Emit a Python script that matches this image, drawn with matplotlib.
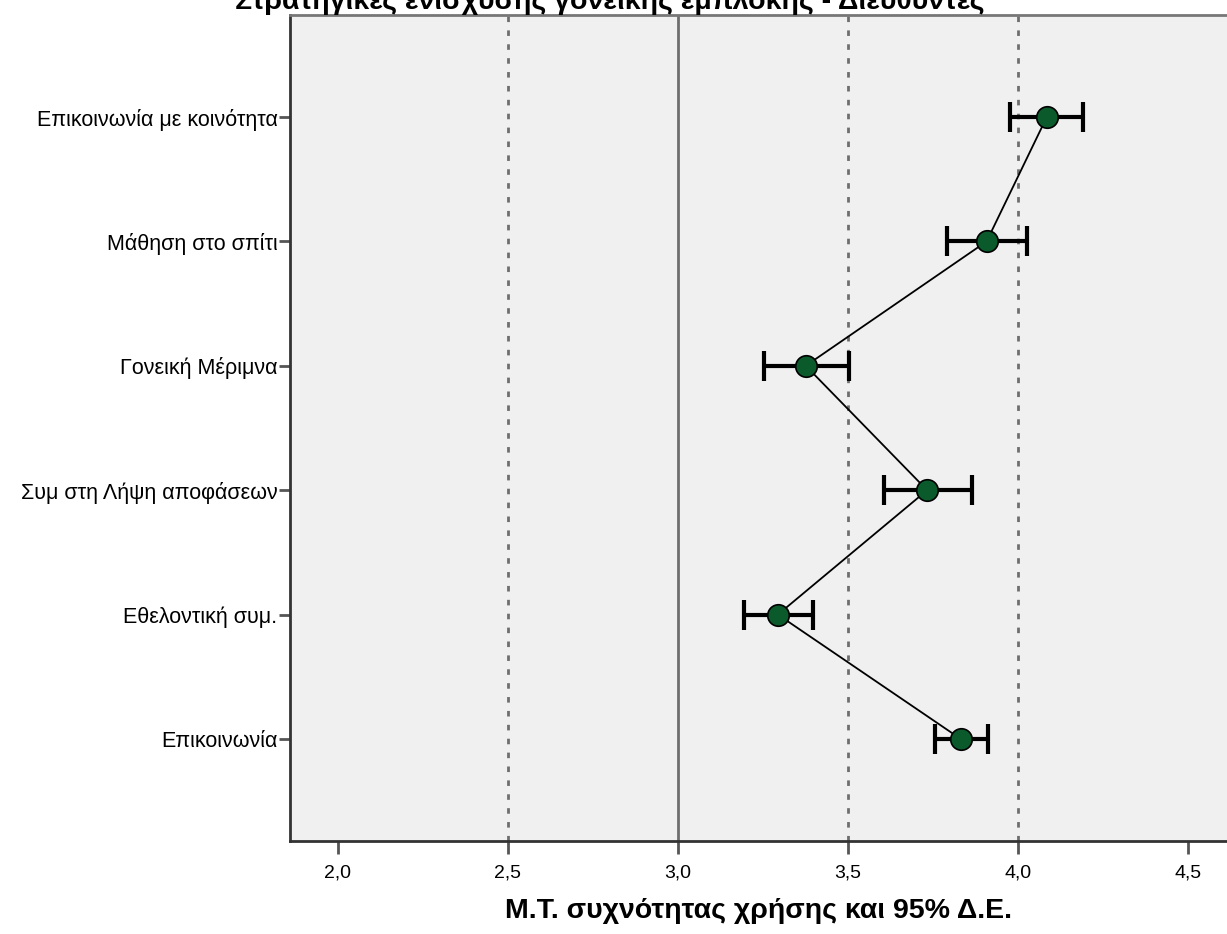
import matplotlib.pyplot as plt
from matplotlib.ticker import FuncFormatter

plt.rcParams["font.family"] = ["Liberation Sans", "DejaVu Sans"]

# categories listed top to bottom
categories = [
    "Επικοινωνία με κοινότητα",
    "Μάθηση στο σπίτι",
    "Γονεική Μέριμνα",
    "Συμ στη Λήψη αποφάσεων",
    "Εθελοντική συμ.",
    "Επικοινωνία",
]
means = [4.085, 3.908, 3.376, 3.733, 3.294, 3.832]
ci_low = [3.976, 3.790, 3.253, 3.606, 3.194, 3.757]
ci_high = [4.191, 4.028, 3.502, 3.866, 3.397, 3.912]
ref_lines = [2.5, 3.5, 4.0]
x_ticks = [2.0, 2.5, 3.0, 3.5, 4.0, 4.5]

fig = plt.figure(figsize=(12.27, 9.34), dpi=100)
ax = fig.add_axes([290 / 1227, 93 / 934, 937 / 1227, 826 / 934])
ax.set_facecolor("#f0f0f0")

y = list(range(len(categories)))
err_lo = [m - lo for m, lo in zip(means, ci_low)]
err_hi = [hi - m for m, hi in zip(means, ci_high)]

for xv in ref_lines:
    ax.axvline(xv, color="#6e6e6e", lw=2, ls=(0, (2, 3)), zorder=1)
ax.axvline(3.0, color="#6e6e6e", lw=2, zorder=1)

ax.plot(means, y, color="black", lw=1.3, zorder=2)
ax.errorbar(means, y, xerr=[err_lo, err_hi], fmt="none", ecolor="black",
            elinewidth=3, capsize=11, capthick=3, zorder=3)
ax.scatter(means, y, s=240, color="#0b5a2c", edgecolor="black",
           linewidth=1.2, zorder=4)

ax.set_xlim(1.859, 4.615)
ax.set_ylim(len(categories) - 1 + 0.82, -0.82)
ax.set_xticks(x_ticks)
ax.xaxis.set_major_formatter(FuncFormatter(lambda v, p: f"{v:.1f}".replace(".", ",")))
ax.set_yticks(y)
ax.set_yticklabels(categories)
ax.tick_params(axis="x", length=9, width=2, color="#555555", labelsize=14, pad=8)
ax.tick_params(axis="y", length=8, width=2, color="#555555", labelsize=15.5, pad=1)

for side in ["left", "bottom", "top"]:
    ax.spines[side].set_linewidth(2)
    ax.spines[side].set_color("#333333")
ax.spines["top"].set_color("#777777")
ax.spines["right"].set_visible(False)

ax.set_xlabel("Μ.Τ. συχνότητας χρήσης και 95% Δ.Ε.", fontsize=20.5,
              fontweight="bold", labelpad=12)
fig.text(610 / 1227, 0.998, "Στρατηγικές ενίσχυσης γονεϊκής εμπλοκής - Διευθυντές",
         ha="center", va="center", fontsize=20.5, fontweight="bold")

fig.savefig("out.png", dpi=100)
